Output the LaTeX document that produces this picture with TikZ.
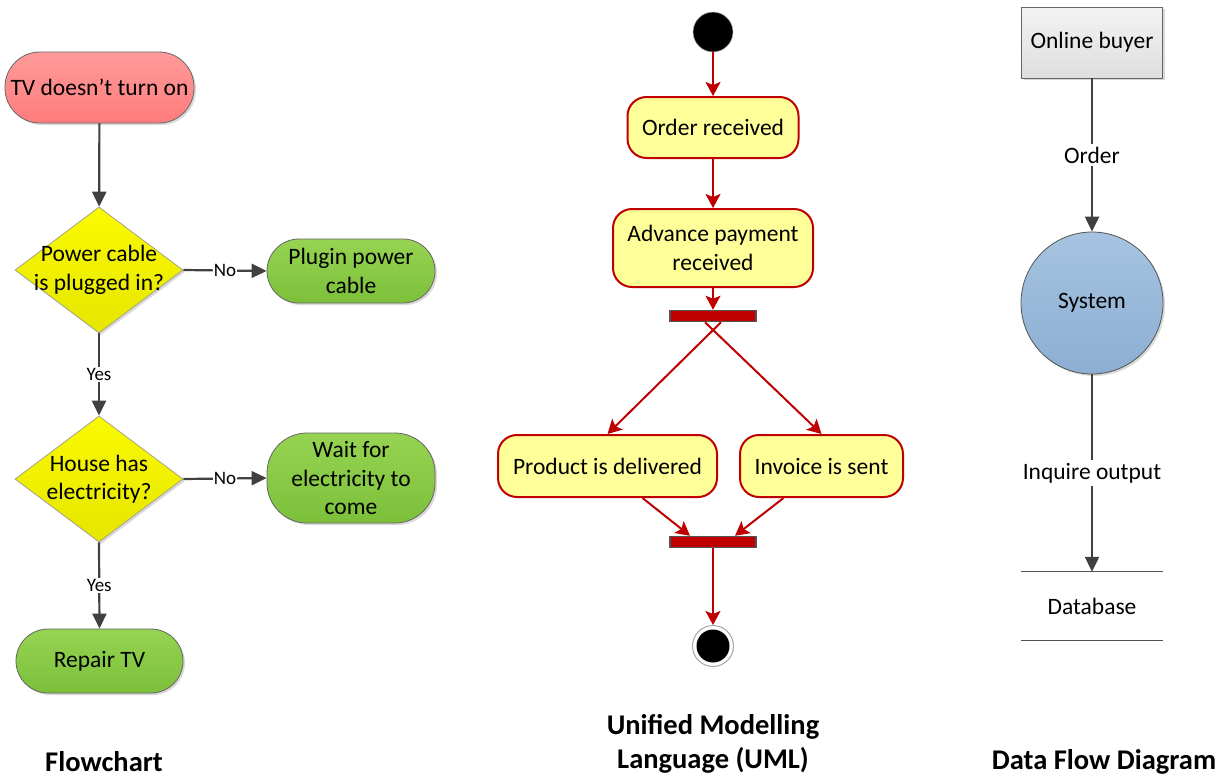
\documentclass[tikz,border=0pt]{standalone}
\usepackage{fontspec}
\setmainfont{Carlito}
\usetikzlibrary{arrows.meta,shapes.geometric,calc,shadows}

\definecolor{conn}{HTML}{404040}
\definecolor{umlred}{HTML}{C00000}
\definecolor{umlfill}{HTML}{FFFF99}
\definecolor{pinktop}{HTML}{FF9A9A}
\definecolor{pinkbot}{HTML}{FF7C7C}
\definecolor{greentop}{HTML}{96D352}
\definecolor{greenbot}{HTML}{7CC03A}
\definecolor{yeltop}{HTML}{FAFA00}
\definecolor{yelbot}{HTML}{E6E600}
\definecolor{bluetop}{HTML}{A6C4E1}
\definecolor{bluebot}{HTML}{8DAED2}
\definecolor{greytop}{HTML}{F3F3F3}
\definecolor{greybot}{HTML}{DEDEDE}

\tikzset{
  basefont/.style={font=\fontsize{23.5}{28.5}\selectfont},
  softshadow/.style={drop shadow={shadow xshift=2pt,shadow yshift=-2pt,opacity=0.15,fill=black}},
  terminal/.style={basefont, rectangle, draw=conn!80, line width=0.8pt, align=center,
    inner sep=0pt, softshadow},
  pinkterm/.style={terminal, top color=pinktop, bottom color=pinkbot},
  greenterm/.style={terminal, top color=greentop, bottom color=greenbot},
  decision/.style={diamond, draw=gray!80!yellow, line width=0.8pt, inner sep=0pt,
    minimum width=168pt, minimum height=126pt, top color=yeltop, bottom color=yelbot, softshadow},
  flow/.style={draw=conn, line width=2.2pt, -{Triangle[length=15pt,width=14pt]}},
  flowlab/.style={fill=white, inner sep=1pt, font=\fontsize{19}{22}\selectfont, text=black},
  activity/.style={basefont, rectangle, rounded corners=19pt, draw=umlred, line width=2pt,
    fill=umlfill, align=center, inner sep=0pt},
  umlflow/.style={draw=umlred, line width=2pt, -{Stealth[length=14pt,width=15pt,inset=3pt]}},
  umlbar/.style={rectangle, fill=umlred, draw=conn!90, line width=1.5pt, inner sep=0pt,
    minimum width=86pt, minimum height=11pt},
  dflow/.style={draw=conn, line width=2.2pt, -{Triangle[length=15pt,width=14pt]}},
  dlab/.style={basefont, fill=white, inner sep=3pt},
  title/.style={font=\fontsize{28.5}{34}\selectfont\bfseries, align=center, inner sep=0pt},
}

\begin{document}
\begin{tikzpicture}[x=1pt,y=-1pt]
\useasboundingbox (0,0) rectangle (1230,777);

% ---------------- Flowchart ----------------
\node[pinkterm, minimum width=189pt, minimum height=71pt, rounded corners=35pt]
  (tv) at (99.5,87.5) {TV doesn’t turn on};
\node[decision, label={[basefont, align=center]center:Power cable\\is plugged in?}]
  (cable) at (99,270) {};
\node[greenterm, minimum width=168pt, minimum height=64pt, rounded corners=32pt]
  (plug) at (351,271) {Plugin power\\cable};
\node[decision, label={[basefont, align=center]center:House has\\electricity?}]
  (power) at (99,479) {};
\node[greenterm, minimum width=168pt, minimum height=90pt, rounded corners=40pt]
  (wait) at (351,478) {Wait for\\electricity to\\come};
\node[greenterm, minimum width=167pt, minimum height=64pt, rounded corners=32pt]
  (repair) at (99.5,661) {Repair TV};

\draw[flow] (tv) -- (cable);
\draw[flow] (cable.east) -- node[flowlab]{No} (plug.west);
\draw[flow] (cable.south) -- node[flowlab]{Yes} (power.north);
\draw[flow] (power.east) -- node[flowlab]{No} (wait.west);
\draw[flow] (power.south) -- node[flowlab]{Yes} (repair.north);

\node[title] (fctitle) at (104,762) {Flowchart};

% ---------------- UML activity diagram ----------------
\node[circle, fill=black, draw=gray!60, line width=0.6pt, minimum size=40pt, inner sep=0pt]
  (init) at (713,32) {};
\node[activity, minimum width=171pt, minimum height=61pt] (order) at (713,127.5) {Order received};
\node[activity, minimum width=200pt, minimum height=78pt] (advance) at (713,248) {Advance payment\\received};
\node[umlbar] (fork) at (713,316) {};
\node[activity, minimum width=219pt, minimum height=62pt] (deliver) at (607.5,466) {Product is delivered};
\node[activity, minimum width=163pt, minimum height=62pt] (invoice) at (821.5,466) {Invoice is sent};
\node[umlbar] (join) at (713,542) {};
\node[circle, fill=white, draw=gray!70, line width=1pt, minimum size=41pt, inner sep=0pt]
  (final) at (713,646) {};
\node[circle, fill=black, minimum size=33pt, inner sep=0pt] (finaldot) at (final) {};

\draw[umlflow] (init) -- (order);
\draw[umlflow] (order) -- (advance);
\draw[umlflow] (advance.south) -- (fork.north);
\draw[umlflow] ($(fork.south)+(8,0)$) -- (deliver.north);
\draw[umlflow] ($(fork.south)+(-8,0)$) -- (invoice.north);
\draw[umlflow] ($(deliver.south)+(35,0)$) -- ($(join.north)+(-23,0)$);
\draw[umlflow] ($(invoice.south)+(-38,0)$) -- ($(join.north)+(22,0)$);
\draw[umlflow] (join.south) -- (final.north);

\node[title] (umltitle) at (713,744) {Unified Modelling\\Language (UML)};

% ---------------- Data flow diagram ----------------
\node[basefont, rectangle, draw=gray!80!black, line width=0.8pt, top color=greytop, bottom color=greybot,
  minimum width=141pt, minimum height=71pt, inner sep=0pt, softshadow] (buyer) at (1092,42.5) {Online buyer};
\node[basefont, circle, draw=conn!90, line width=0.8pt, top color=bluetop, bottom color=bluebot,
  minimum size=142pt, inner sep=0pt, softshadow] (system) at (1092,303) {System};
\node[basefont, rectangle, minimum width=141pt, minimum height=68pt, inner sep=0pt]
  (db) at (1092,606) {Database};
\draw[conn!90, line width=1pt] (db.north west) -- (db.north east);
\draw[conn!90, line width=1pt] (db.south west) -- (db.south east);

\draw[dflow] (buyer.south) -- node[dlab]{Order} (system.north);
\draw[dflow] (system.south) -- node[dlab]{Inquire output} (db.north);

\node[title] (dfdtitle) at (1104,762) {Data Flow Diagram};
\end{tikzpicture}
\end{document}
